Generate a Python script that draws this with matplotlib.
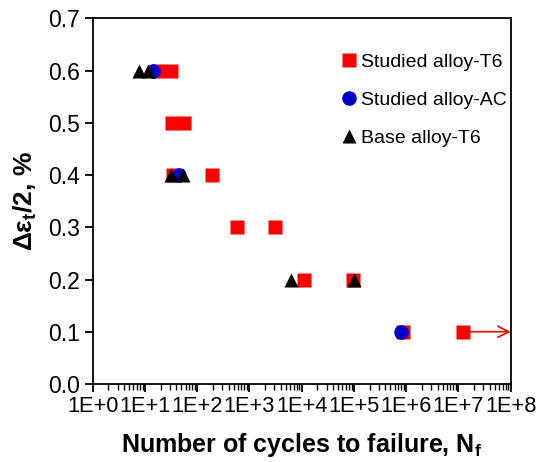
import numpy as np
import matplotlib
matplotlib.use("Agg")
import matplotlib.pyplot as plt
from matplotlib.ticker import FuncFormatter, LogLocator

plt.rcParams['font.family'] = ['Liberation Sans', 'DejaVu Sans']
plt.rcParams['mathtext.fontset'] = 'custom'
plt.rcParams['mathtext.rm'] = 'Liberation Sans'
plt.rcParams['mathtext.bf'] = 'Liberation Sans:bold'

## Datos
N_T6 = [17.8, 31.5, 32.5, 56.6, 34.4, 189, 590, 3110, 11300, 96800, 8.5e5, 1.23e7]
S_T6 = [0.6, 0.6, 0.5, 0.5, 0.4, 0.4, 0.3, 0.3, 0.2, 0.2, 0.1, 0.1]

N_AC = [14.3, 44.8, 7.9e5]
S_AC = [0.6, 0.4, 0.1]

N_base = [7.7, 11.4, 31.5, 53.5, 6160, 1.0e5]
S_base = [0.6, 0.6, 0.4, 0.4, 0.2, 0.2]

# punto que no rompio (runout)
N_runout = 1.23e7
S_runout = 0.1

fig, ax = plt.subplots(figsize=(5.39, 4.62), dpi=100)
fig.subplots_adjust(left=0.172, right=0.9475, top=0.960, bottom=0.169)

ax.plot(N_T6, S_T6, 's', color='#FF0000', ms=10.5, mec='none', label='Studied alloy-T6')
ax.plot(N_AC, S_AC, 'o', color='#0000C8', ms=10.5, mec='none', label='Studied alloy-AC')
ax.plot(N_base, S_base, '^', color='black', ms=10, mec='none', label='Base alloy-T6')

# flecha del runout hasta el borde derecho
ax.annotate('', xy=(1.0, S_runout), xycoords=('axes fraction', 'data'),
            xytext=(N_runout * 1.3, S_runout), textcoords='data',
            arrowprops=dict(arrowstyle='->', color='#FF0000', lw=1.2,
                            mutation_scale=20, shrinkA=0, shrinkB=0))

ax.set_xscale('log')
ax.set_xlim(1, 1e8)
ax.set_ylim(0, 0.7)
ax.set_yticks(np.arange(0, 0.71, 0.1))
ax.yaxis.set_major_formatter(FuncFormatter(lambda v, p: f"{v:.1f}"))
ax.xaxis.set_major_locator(LogLocator(base=10, numticks=20))
ax.xaxis.set_minor_locator(LogLocator(base=10, subs=np.arange(2, 10), numticks=20))
ax.xaxis.set_major_formatter(FuncFormatter(lambda v, p: "1E+%d" % int(round(np.log10(v)))))

ax.tick_params(axis='both', which='major', direction='out', length=6, width=1.3,
               labelsize=16.5, colors='black')
ax.tick_params(axis='x', which='major', labelsize=15.7, pad=3)
ax.tick_params(axis='x', which='minor', direction='out', length=4, width=1.0)
for s in ax.spines.values():
    s.set_linewidth(1.3)

ax.set_xlabel('Number of cycles to failure, N$_\\mathbf{f}$', fontsize=18,
              fontweight='bold', labelpad=10)
ax.set_ylabel('Δε$_\\mathbf{t}$/2, %', fontsize=19, fontweight='bold', labelpad=6)

ax.legend(loc='upper left', bbox_to_anchor=(0.6, 0.905), frameon=False,
          fontsize=14, handlelength=0.6, handletextpad=0.3, labelspacing=1.05,
          borderpad=0, borderaxespad=0, numpoints=1)

plt.savefig('out.png', dpi=100)
